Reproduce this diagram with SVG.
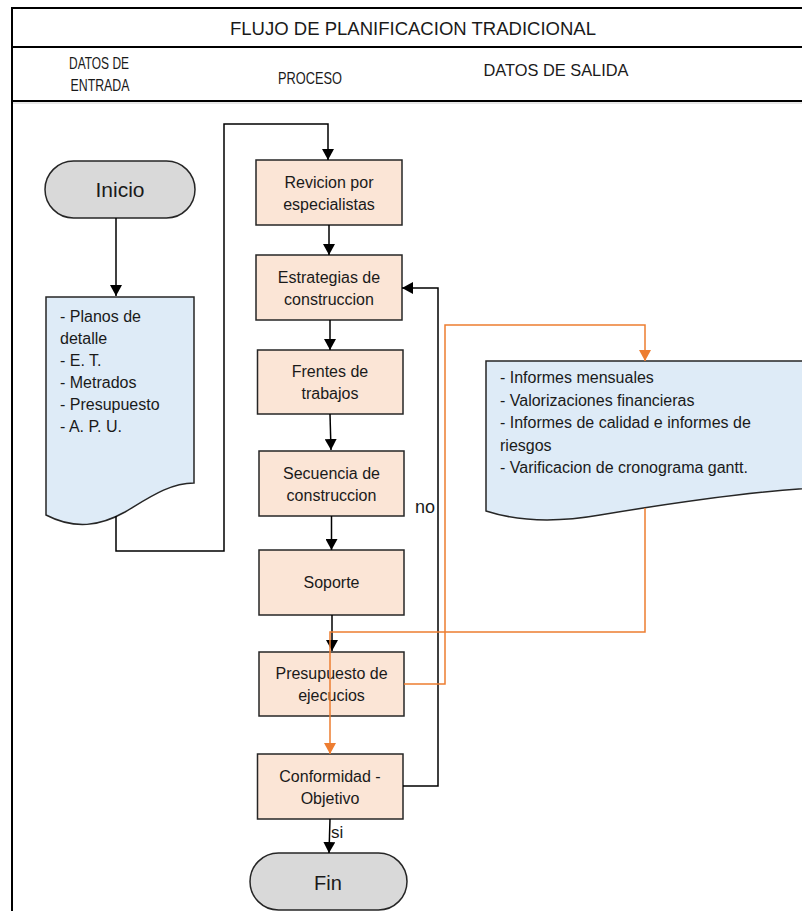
<svg xmlns="http://www.w3.org/2000/svg" width="802" height="911" viewBox="0 0 802 911">
  <defs>
    <marker id="arrowBlack" markerUnits="userSpaceOnUse" markerWidth="11" markerHeight="12" refX="11" refY="6" orient="auto">
      <path d="M0,0 L11,6 L0,12 Z" fill="#000"/>
    </marker>
    <marker id="arrowOrange" markerUnits="userSpaceOnUse" markerWidth="11" markerHeight="12" refX="11" refY="6" orient="auto">
      <path d="M0,0 L11,6 L0,12 Z" fill="#ED7D31"/>
    </marker>
  </defs>
  <style>
    text { font-family: "Liberation Sans", Arial, sans-serif; fill: #1a1a1a; }
    .frame { stroke: #000; stroke-width: 2; fill: none; }
    .hdr { font-size: 17px; text-anchor: middle; }
    .proc rect { fill: #FBE5D6; stroke: #262626; stroke-width: 1.5; }
    .proc text { font-size: 16px; text-anchor: middle; }
    .term rect { fill: #D9D9D9; stroke: #262626; stroke-width: 1.5; }
    .term text { font-size: 20px; text-anchor: middle; }
    .doc path { fill: #DEEBF7; stroke: #262626; stroke-width: 1.5; }
    .doc text { font-size: 16px; }
    .conn { fill: none; stroke: #000; stroke-width: 1.5; }
    .conn.orange { stroke: #ED7D31; }
    .lbl { font-size: 18px; }
  </style>

  <rect width="802" height="911" fill="#fff"/>

  <!-- table frame and column headers -->
  <g id="frame">
    <line class="frame" x1="12" y1="8" x2="802" y2="8"/>
    <line class="frame" x1="12" y1="7" x2="12" y2="911"/>
    <line class="frame" x1="12" y1="47" x2="802" y2="47"/>
    <line class="frame" x1="12" y1="101" x2="802" y2="101"/>
    <line x1="13" y1="103" x2="802" y2="103" stroke="#d0d0d0" stroke-width="1"/>
    <text x="413" y="35" style="font-size:19px;text-anchor:middle" textLength="366" lengthAdjust="spacingAndGlyphs">FLUJO DE PLANIFICACION TRADICIONAL</text>
    <text class="hdr" x="99" y="69" textLength="60" lengthAdjust="spacingAndGlyphs">DATOS DE</text>
    <text class="hdr" x="100" y="91" textLength="59" lengthAdjust="spacingAndGlyphs">ENTRADA</text>
    <text class="hdr" x="310" y="84" textLength="64" lengthAdjust="spacingAndGlyphs">PROCESO</text>
    <text class="hdr" x="556" y="76" textLength="145" lengthAdjust="spacingAndGlyphs">DATOS DE SALIDA</text>
  </g>

  <!-- terminals -->
  <g id="inicio" class="term">
    <rect x="45" y="161" width="150" height="57" rx="28.5" ry="28.5"/>
    <text x="120" y="197" style="font-size:21px">Inicio</text>
  </g>
  <g id="fin" class="term">
    <rect x="250" y="853" width="157" height="57" rx="28.5" ry="28.5"/>
    <text x="328" y="890">Fin</text>
  </g>

  <!-- input data document -->
  <g id="datos-entrada" class="doc">
    <path d="M46,297 H194 V483 C170,483 150,497 125,512 C100,526 75,530 46,515 Z"/>
    <text x="60" y="322">- Planos de</text>
    <text x="60" y="344">detalle</text>
    <text x="60" y="366">- E. T.</text>
    <text x="60" y="388">- Metrados</text>
    <text x="60" y="410">- Presupuesto</text>
    <text x="60" y="432">- A. P. U.</text>
  </g>

  <!-- output data document -->
  <g id="datos-salida" class="doc">
    <path d="M486,361 H830 V487 C760,490 660,505 600,515 C560,522 520,522 486,511 Z"/>
    <text x="500" y="383">- Informes mensuales</text>
    <text x="500" y="405.5">- Valorizaciones financieras</text>
    <text x="500" y="428">- Informes de calidad e informes de</text>
    <text x="500" y="450.5">riesgos</text>
    <text x="500" y="473">- Varificacion de cronograma gantt.</text>
  </g>

  <!-- process steps -->
  <g id="revicion" class="proc">
    <rect x="256" y="160" width="146" height="65"/>
    <text x="329" y="188">Revicion por</text>
    <text x="329" y="210">especialistas</text>
  </g>
  <g id="estrategias" class="proc">
    <rect x="256" y="255" width="146" height="65"/>
    <text x="329" y="283">Estrategias de</text>
    <text x="329" y="305">construccion</text>
  </g>
  <g id="frentes" class="proc">
    <rect x="257.5" y="350" width="145.5" height="64"/>
    <text x="330" y="377">Frentes de</text>
    <text x="330" y="399">trabajos</text>
  </g>
  <g id="secuencia" class="proc">
    <rect x="259" y="451" width="145" height="65"/>
    <text x="331.5" y="479">Secuencia de</text>
    <text x="331.5" y="501">construccion</text>
  </g>
  <g id="soporte" class="proc">
    <rect x="259" y="550" width="145" height="65"/>
    <text x="331.5" y="588">Soporte</text>
  </g>
  <g id="presupuesto" class="proc">
    <rect x="259" y="652" width="145" height="64"/>
    <text x="331.5" y="679">Presupuesto de</text>
    <text x="331.5" y="701">ejecucios</text>
  </g>
  <g id="conformidad" class="proc">
    <rect x="257.5" y="754" width="145.5" height="65"/>
    <text x="330" y="782">Conformidad -</text>
    <text x="330" y="804">Objetivo</text>
  </g>

  <!-- connectors -->
  <g id="connectors">
    <path class="conn" d="M116,218 V296" marker-end="url(#arrowBlack)"/>
    <path class="conn" d="M116,516 V551 H224 V124 H328 V160" marker-end="url(#arrowBlack)"/>
    <path class="conn" d="M329,225 V255" marker-end="url(#arrowBlack)"/>
    <path class="conn" d="M330,320 V350" marker-end="url(#arrowBlack)"/>
    <path class="conn" d="M330,414 L331,450" marker-end="url(#arrowBlack)"/>
    <path class="conn" d="M331.5,516 V550" marker-end="url(#arrowBlack)"/>
    <path class="conn" d="M332,615 V651" marker-end="url(#arrowBlack)"/>
    <path class="conn" d="M330,819 L329,853" marker-end="url(#arrowBlack)"/>
    <path class="conn" d="M403,786 H438 V288 H402" marker-end="url(#arrowBlack)"/>
    <path class="conn orange" d="M404,684 H445 V325 H645 V361" marker-end="url(#arrowOrange)"/>
    <path class="conn orange" d="M645,508 V632 H330 V754" marker-end="url(#arrowOrange)"/>
    <text class="lbl" x="415" y="513">no</text>
    <text class="lbl" x="331" y="838" style="font-size:17px">si</text>
  </g>
</svg>
